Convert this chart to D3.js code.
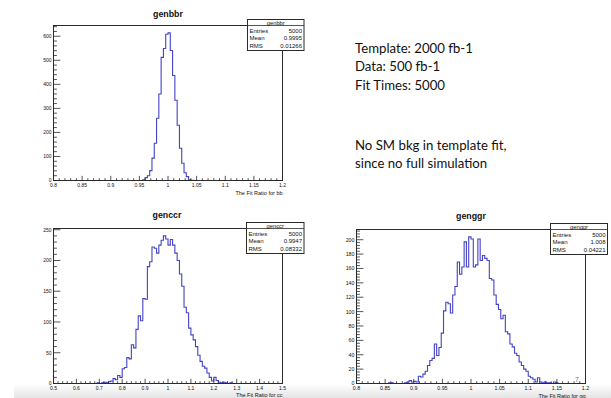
<!DOCTYPE html>
<html><head><meta charset="utf-8">
<script src="https://cdn.jsdelivr.net/npm/d3@7/dist/d3.min.js"></script>
<style>body{margin:0;background:#fff} svg{display:block}</style>
</head><body>
<svg id="c" width="611" height="398"></svg>
<script>
// ---- data (100 bins each) ----
const bbCounts = [
  0,0,0,0,0,0,0,0,0,0, 0,0,0,0,0,0,0,0,0,0, 0,0,0,0,0,0,0,0,0,0,
  0,0,0,0,0,0,0,0,0,3, 12,20,41,93,155,259,360,512,549,608,
  614,541,437,334,230,134,72,32,16,3, 1,0,0,0,0,0,0,0,0,0,
  0,0,0,0,0,0,0,0,0,0, 0,0,0,0,0,0,0,0,0,0, 0,0,0,0,0,0,0,0,0,0];
const ccCounts = [
  0,0,0,0,0,0,0,0,0,0, 0,0,0,0,0,0,0,0,0,1, 0,1,2,1,3,4,8,6,13,10,
  24,26,42,40,63,58,88,110,102,138, 137,190,198,222,220,212,225,233,240,235,
  225,234,225,212,200,178,158,124,115,90, 79,71,60,46,36,28,25,17,10,4,
  10,5,2,1,2,1,0,1,0,0, 0,0,0,0,0,0,0,0,0,0, 0,0,0,0,0,0,0,0,0,0];
const ggCounts = [
  0,0,0,0,0,0,0,0,0,0, 0,0,0,0,1,1,0,0,0,0, 0,1,2,4,2,3,2,10,9,13,
  17,25,32,35,55,39,50,70,101,113, 111,98,123,135,169,152,162,197,162,204,
  201,162,165,201,171,178,174,171,146,144, 123,110,103,90,95,72,69,55,51,42,
  39,30,25,20,17,10,8,6,2,8, 2,1,2,1,1,0,2,1,0,0, 0,0,0,0,0,0,0,0,0,0];

const bbRange = [0.8, 1.2];
const ccRange = [0.5, 1.5];
const ggRange = [0.8, 1.2];

const bbXLabels = ["0.8","0.85","0.9","0.95","1","1.05","1.1","1.15","1.2"];
const ccXLabels = ["0.5","0.6","0.7","0.8","0.9","1","1.1","1.2","1.3","1.4","1.5"];
const ggXLabels = ["0.8","0.85","0.9","0.95","1","1.05","1.1","1.15","1.2"];
const bbYLabels = ["0","100","200","300","400","500","600"];
const ccYLabels = ["0","50","100","150","200","250"];
const ggYLabels = ["0","20","40","60","80","100","120","140","160","180","200"];

const histNames = ["genbbr","genccr","genggr"];
const xTitles = ["The Fit Ratio for bb","The Fit Ratio for cc","The Fit Ratio for gg"];
const statLabels = ["Entries","Mean","RMS"];
const bbStats = ["5000","0.9995","0.01266"];
const ccStats = ["5000","0.9947","0.08332"];
const ggStats = ["5000","1.008","0.04221"];

const noteLines1 = ["Template: 2000 fb-1","Data: 500 fb-1","Fit Times: 5000"];
const noteLines2 = ["No SM bkg in template fit,","since no full simulation"];

// ---- drawing ----
const svg = d3.select("#c");
const FONT = "'Liberation Sans', Arial, Helvetica, sans-serif";
const BLUE = "#4343c6";
const AX = "#2a2a2a";

// faint bottom band of the slide
const defs = svg.append("defs");
const gr = defs.append("linearGradient").attr("id","band").attr("x1",0).attr("y1",0).attr("x2",0).attr("y2",1);
gr.append("stop").attr("offset","0").attr("stop-color","#ffffff");
gr.append("stop").attr("offset","1").attr("stop-color","#e4e4e4");
svg.append("rect").attr("x",14).attr("y",384).attr("width",597).attr("height",14).attr("fill","url(#band)");

function drawPanel(cfg) {
  const g = svg.append("g");
  const x = d3.scaleLinear().domain(cfg.range).range([cfg.fx0, cfg.fx1]);
  const ymax = d3.max(cfg.counts) * 1.05;
  const y = d3.scaleLinear().domain([0, ymax]).range([cfg.fy1, cfg.fy0]);
  const n = cfg.counts.length;
  const bw = (cfg.range[1] - cfg.range[0]) / n;

  // histogram outline
  const pts = [];
  cfg.counts.forEach((c, i) => {
    pts.push([x(cfg.range[0] + i * bw), y(c)]);
    pts.push([x(cfg.range[0] + (i + 1) * bw), y(c)]);
  });
  g.append("path").attr("d", d3.line()(pts))
    .attr("fill", "none").attr("stroke", BLUE).attr("stroke-width", 1.1);

  // frame
  g.append("rect")
    .attr("x", cfg.fx0).attr("y", cfg.fy0)
    .attr("width", cfg.fx1 - cfg.fx0).attr("height", cfg.fy1 - cfg.fy0)
    .attr("fill", "none").attr("stroke", AX).attr("stroke-width", 1);

  const fw = cfg.fx1 - cfg.fx0, fh = cfg.fy1 - cfg.fy0;
  // x ticks
  const xMaj = cfg.xLabels.map(Number);
  const xStep = xMaj[1] - xMaj[0];
  const xMin = [];
  for (let k = 0; k <= Math.round((cfg.range[1] - cfg.range[0]) / (xStep / 5)); k++) xMin.push(cfg.range[0] + k * xStep / 5);
  g.selectAll(null).data(xMin).enter().append("line")
    .attr("x1", d => x(d)).attr("x2", d => x(d))
    .attr("y1", cfg.fy1).attr("y2", (d, i) => cfg.fy1 - (i % 5 === 0 ? 0.03 * fh : 0.015 * fh))
    .attr("stroke", AX).attr("stroke-width", 0.8);
  g.selectAll(null).data(cfg.xLabels).enter().append("text")
    .attr("x", d => x(+d)).attr("y", cfg.xLabY)
    .attr("text-anchor", "middle").attr("font-family", FONT).attr("font-size", cfg.tickFont)
    .attr("fill", "#111").text(d => d);

  // y ticks
  const yMaj = cfg.yLabels.map(Number);
  const yStep = yMaj[1] - yMaj[0];
  const yMin = [];
  for (let v = 0; v <= ymax; v += yStep / 5) yMin.push(v);
  g.selectAll(null).data(yMin).enter().append("line")
    .attr("x1", cfg.fx0).attr("x2", (d, i) => cfg.fx0 + (i % 5 === 0 ? 0.03 * fw : 0.015 * fw))
    .attr("y1", d => y(d)).attr("y2", d => y(d))
    .attr("stroke", AX).attr("stroke-width", 0.8);
  g.selectAll(null).data(cfg.yLabels).enter().append("text")
    .attr("x", cfg.fx0 - 2).attr("y", d => y(+d) + cfg.tickFont * 0.36)
    .attr("text-anchor", "end").attr("font-family", FONT).attr("font-size", cfg.tickFont)
    .attr("fill", "#111").text(d => d);

  // axis title
  g.append("text").attr("x", cfg.fx1).attr("y", cfg.xTitleY)
    .attr("text-anchor", "end").attr("font-family", FONT).attr("font-size", 5.5)
    .attr("fill", "#111").text(cfg.xTitle);

  // histogram title
  g.append("text").attr("x", cfg.titleX).attr("y", cfg.titleY)
    .attr("text-anchor", "middle").attr("font-family", FONT).attr("font-size", 8.8)
    .attr("font-weight", "bold").attr("fill", "#111").text(cfg.name);

  // stats box
  const b = cfg.box;
  const sb = g.append("g");
  sb.append("rect").attr("x", b.x).attr("y", b.y).attr("width", b.w).attr("height", b.h)
    .attr("fill", "#fff").attr("stroke", AX).attr("stroke-width", 1);
  sb.append("line").attr("x1", b.x).attr("x2", b.x + b.w).attr("y1", b.y + 6).attr("y2", b.y + 6)
    .attr("stroke", AX).attr("stroke-width", 0.8);
  sb.append("text").attr("x", b.x + b.w / 2).attr("y", b.y + 5)
    .attr("text-anchor", "middle").attr("font-family", FONT).attr("font-size", 5.8)
    .attr("fill", "#111").text(cfg.name);
  statLabels.forEach((lab, i) => {
    const yy = b.y + 13.6 + i * 7.2;
    sb.append("text").attr("x", b.x + 2).attr("y", yy)
      .attr("font-family", FONT).attr("font-size", 6).attr("fill", "#111").text(lab);
    sb.append("text").attr("x", b.x + b.w - 2).attr("y", yy).attr("text-anchor", "end")
      .attr("font-family", FONT).attr("font-size", 6).attr("fill", "#111").text(cfg.stats[i]);
  });
}

drawPanel({counts: bbCounts, range: bbRange, xLabels: bbXLabels, yLabels: bbYLabels,
  fx0: 53.5, fx1: 282.5, fy0: 25.5, fy1: 180.5, xLabY: 186.5, xTitleY: 194.5, tickFont: 5,
  xTitle: xTitles[0], name: histNames[0], titleX: 168, titleY: 16.5, stats: bbStats,
  box: {x: 247.5, y: 19.5, w: 56.5, h: 31}});
drawPanel({counts: ccCounts, range: ccRange, xLabels: ccXLabels, yLabels: ccYLabels,
  fx0: 53.5, fx1: 282.5, fy0: 228.5, fy1: 383.5, xLabY: 389.5, xTitleY: 396.5, tickFont: 5,
  xTitle: xTitles[1], name: histNames[1], titleX: 167, titleY: 218, stats: ccStats,
  box: {x: 246.5, y: 222.5, w: 57.5, h: 31}});
drawPanel({counts: ggCounts, range: ggRange, xLabels: ggXLabels, yLabels: ggYLabels,
  fx0: 356.5, fx1: 585.5, fy0: 229.5, fy1: 383.5, xLabY: 390, xTitleY: 398, tickFont: 5.3,
  xTitle: xTitles[2], name: histNames[2], titleX: 471, titleY: 218.5, stats: ggStats,
  box: {x: 550.5, y: 223.5, w: 57, h: 31}});

// slide number
svg.append("text").attr("x", 577).attr("y", 381.5).attr("text-anchor", "middle")
  .attr("font-family", FONT).attr("font-size", 7).attr("fill", "#777").text("7");

// notes
const NFONT = "Lato, 'Open Sans', sans-serif";
noteLines1.forEach((t, i) => svg.append("text").attr("x", 355).attr("y", 53 + i * 18.4)
  .attr("font-family", NFONT).attr("font-size", 13.2).attr("fill", "#111").text(t));
noteLines2.forEach((t, i) => svg.append("text").attr("x", 355).attr("y", 150 + i * 18.4)
  .attr("font-family", NFONT).attr("font-size", 13.2).attr("fill", "#111").text(t));
</script>
</body></html>
